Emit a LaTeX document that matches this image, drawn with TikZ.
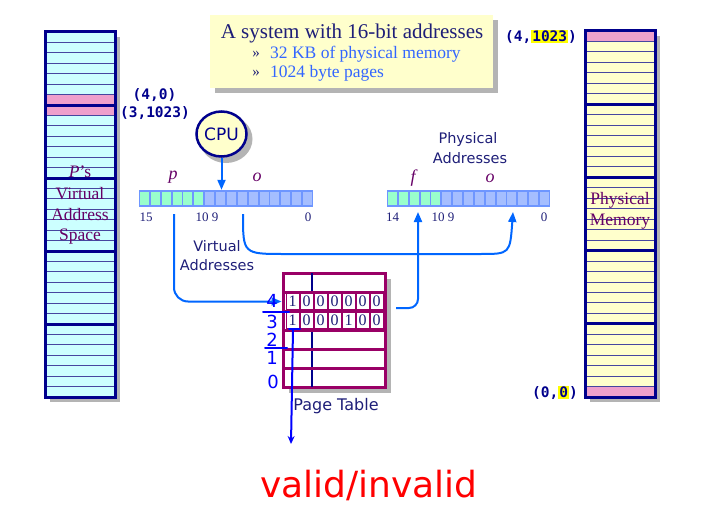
\documentclass[tikz,border=0pt]{standalone}
\usepackage{fontspec}
\setmainfont{Liberation Serif}
\setsansfont{DejaVu Sans}
\setmonofont{DejaVu Sans Mono}
\usetikzlibrary{shapes.geometric,arrows.meta}
\definecolor{navy}{RGB}{0,0,140}
\definecolor{textnavy}{RGB}{30,30,120}
\definecolor{rowblue}{RGB}{70,70,160}
\definecolor{cyanfill}{RGB}{204,255,255}
\definecolor{yellowfill}{RGB}{255,255,204}
\definecolor{pinkrow}{RGB}{238,160,204}
\definecolor{shadegray}{RGB}{180,180,180}
\definecolor{regblue}{RGB}{110,150,255}
\definecolor{greencell}{RGB}{153,255,204}
\definecolor{bluecell}{RGB}{165,190,255}
\definecolor{linkblue}{RGB}{0,102,255}
\definecolor{maroon}{RGB}{153,0,102}
\definecolor{plum}{RGB}{102,0,102}
\definecolor{bulletblue}{RGB}{51,102,255}
\definecolor{handblue}{RGB}{0,0,255}
\definecolor{hlyellow}{RGB}{255,255,0}
\setlength{\fboxsep}{1pt}

\begin{document}
\begin{tikzpicture}
[x=1pt, y=-1pt, every node/.style={inner sep=0pt},
 shade/.style={fill=shadegray},
 rowline/.style={draw=rowblue, line width=0.9pt},
 groupline/.style={draw=navy, line width=3pt},
 memframe/.style={draw=navy, line width=3pt},
 bitcell/.style={minimum width=9pt, minimum height=13.5pt},
 link/.style={draw=linkblue, line width=2pt, -{Triangle[length=10pt,width=8pt]}},
 hand/.style={draw=handblue, line width=2pt, line cap=round},
 handdigit/.style={font=\sffamily\fontsize{18}{18}\selectfont, text=handblue},
 coord/.style={font=\fontsize{14.5}{14.5}\selectfont\ttfamily\bfseries, text=navy},
 ptcell/.style={draw=maroon, line width=0.8pt, fill=white, minimum width=13pt, minimum height=16pt, font=\fontsize{16}{16}\selectfont, text=textnavy},
 label/.style={font=\sffamily\fontsize{14.5}{14.5}\selectfont, text=textnavy},
 bitno/.style={font=\fontsize{13}{13}\selectfont, text=textnavy},
 field/.style={font=\itshape\fontsize{18}{18}\selectfont, text=plum},
 memtext/.style={font=\fontsize{17.5}{17.5}\selectfont, text=plum}]
\useasboundingbox (0,0) rectangle (704,511);

% virtual address space
\fill [shade] (50,37) rectangle (120,402);
\fill [cyanfill] (45,32) rectangle (115,397);
\fill [pinkrow] (45,95.3) rectangle (115,104.5);
\fill [pinkrow] (45,106.5) rectangle (115,115.4);
\foreach \r in {1,...,34} \draw [rowline] (45,{32+\r*10.43}) -- (115,{32+\r*10.43});
\foreach \g in {1,...,4} \draw [groupline] (45,{32+\g*73}) -- (115,{32+\g*73});
\draw [memframe] (45,32) rectangle (115,397);
\node (vs1) [memtext] at (80,172) {\textit{P}'s};
\node (vs2) [memtext] at (80,193.5) {Virtual};
\node (vs3) [memtext] at (80,215) {Address};
\node (vs4) [memtext] at (80,236.5) {Space};

% physical memory
\fill [shade] (590,36) rectangle (660,402);
\fill [yellowfill] (585,31) rectangle (655,397);
\fill [pinkrow] (585,31) rectangle (655,41.4);
\fill [pinkrow] (585,386.6) rectangle (655,397);
\foreach \r in {1,...,34} \draw [rowline] (585,{31+\r*10.457}) -- (655,{31+\r*10.457});
\foreach \g in {1,...,4} \draw [groupline] (585,{31+\g*73.2}) -- (655,{31+\g*73.2});
\draw [memframe] (585,31) rectangle (655,397);
\node (pm1) [memtext] at (620,200) {Physical};
\node (pm2) [memtext] at (620,221.5) {Memory};

% address labels
\node (a40) [coord] at (154.5,95) {(4,0)};
\node (a31023) [coord] at (155,113) {(3,1023)};
\node (a41023) [coord] at (541,37) {(4,\colorbox{hlyellow}{1023})};
\node (a00) [coord] at (555,393) {(0,\colorbox{hlyellow}{0})};

% title box
\fill [shade] (215,20) rectangle (498,93);
\node (title) [fill=yellowfill, minimum width=283pt, minimum height=73pt] at (351.5,51.5) {};
\node (ttl) [font=\fontsize{21}{21}\selectfont, text=textnavy] at (352,33) {A system with 16-bit addresses};
\node (bul1) [font=\fontsize{15}{15}\selectfont, text=textnavy] at (256,54) {»};
\node (bul2) [font=\fontsize{15}{15}\selectfont, text=textnavy] at (256,73) {»};
\node (txt1) [anchor=west, font=\fontsize{17.5}{17.5}\selectfont, text=bulletblue] at (270,54) {32 KB of physical memory};
\node (txt2) [anchor=west, font=\fontsize{17.5}{17.5}\selectfont, text=bulletblue] at (270,73) {1024 byte pages};

% CPU
\fill [shadegray] (226,139) ellipse [x radius=26.5, y radius=24];
\node (cpu) [ellipse, fill=yellowfill, draw=navy, line width=2.5pt, minimum width=50pt, minimum height=45pt, font=\sffamily\fontsize{17}{17}\selectfont, text=navy] at (221.5,134) {CPU};

% virtual address register
\node (vreg) [fill=regblue, minimum width=174pt, minimum height=17pt] at (226,198.5) {};
\foreach \b in {15,...,10} \node (vb\b) [bitcell, fill=greencell] at ({139+10.875*(15.5-\b)},198.5) {};
\foreach \b in {9,...,0} \node (vb\b) [bitcell, fill=bluecell] at ({139+10.875*(15.5-\b)},198.5) {};
\node (vfp) [field] at (173,177) {p};
\node (vfo) [field] at (257,177) {o};
\node (vn15) [bitno] at (146,217) {15};
\node (vn10) [bitno] at (207,217) {10 9};
\node (vn0) [bitno] at (308,217) {0};
\node (vlab1) [label] at (217,246) {Virtual};
\node (vlab2) [label] at (217,265) {Addresses};

% physical address register
\node (preg) [fill=regblue, minimum width=163pt, minimum height=17pt] at (468.5,198.5) {};
\foreach \b in {14,...,10} \node (pb\b) [bitcell, fill=greencell] at ({387+10.867*(14.5-\b)},198.5) {};
\foreach \b in {9,...,0} \node (pb\b) [bitcell, fill=bluecell] at ({387+10.867*(14.5-\b)},198.5) {};
\node (pff) [field] at (413,178) {f};
\node (pfo) [field] at (490,178) {o};
\node (pn14) [bitno] at (392.5,217) {14};
\node (pn10) [bitno] at (443,217) {10 9};
\node (pn0) [bitno] at (544,217) {0};
\node (plab1) [label] at (468,139) {Physical};
\node (plab2) [label] at (470,158) {Addresses};

% page table
\fill [shade] (289,279) rectangle (391,393);
\node (ptab) [draw=maroon, line width=3pt, fill=white, minimum width=102pt, minimum height=114pt] at (334,330) {};
\draw [navy, line width=1.2pt] (312,273) -- (312,387);
\foreach \y in {292,311,330,349,368} \draw [maroon, line width=3pt] (283,\y) -- (385,\y);
\foreach [count=\i] \d in {1,0,0,0,0,0,0} \node (ea\i) [ptcell] at ({285.5+(\i-0.5)*14},301.5) {\d};
\foreach [count=\i] \d in {1,0,0,0,1,0,0} \node (eb\i) [ptcell] at ({285.5+(\i-0.5)*14},320.5) {\d};
\node (ptlab) [font=\sffamily\fontsize{16}{16}\selectfont, text=textnavy] at (336,406) {Page Table};

% connectors
\coordinate (vp) at (174,214);
\coordinate (vo) at (243,214);
\coordinate (po) at (513,212);
\coordinate (pf) at (418,212);
\coordinate (pout) at (396,308);
\draw [link] (cpu) -- (cpu |- vreg.north);
\draw [link, rounded corners=14pt] (vp) |- (ptab.west |- ea1);
\draw [link] (vo) .. controls (243,254) .. (285,254) -- (480,254) .. controls (510,254) .. (po);
\draw [link, rounded corners=9pt] (pout) -| (pf);

% handwritten notes
\node (h4) [handdigit] at (272,301) {4};
\node (h3) [handdigit] at (272,322) {3};
\node (h2) [handdigit] at (272,340) {2};
\node (h1) [handdigit] at (272,358) {1};
\node (h0) [handdigit] at (273,382) {0};
\draw [hand] (263,312) -- (289,312);
\draw [hand] (265,348) -- (287,348);
\draw [hand] (289,329) -- (300,329);
\coordinate (vtop) at (293,329);
\coordinate (vbot) at (291,444);
\draw [hand, -{Stealth[length=8pt,width=7pt]}] (vtop) -- (vbot);
\node (valid) [font=\sffamily\fontsize{36}{36}\selectfont, text=red] at (369,485) {valid/invalid};
\end{tikzpicture}
\end{document}
